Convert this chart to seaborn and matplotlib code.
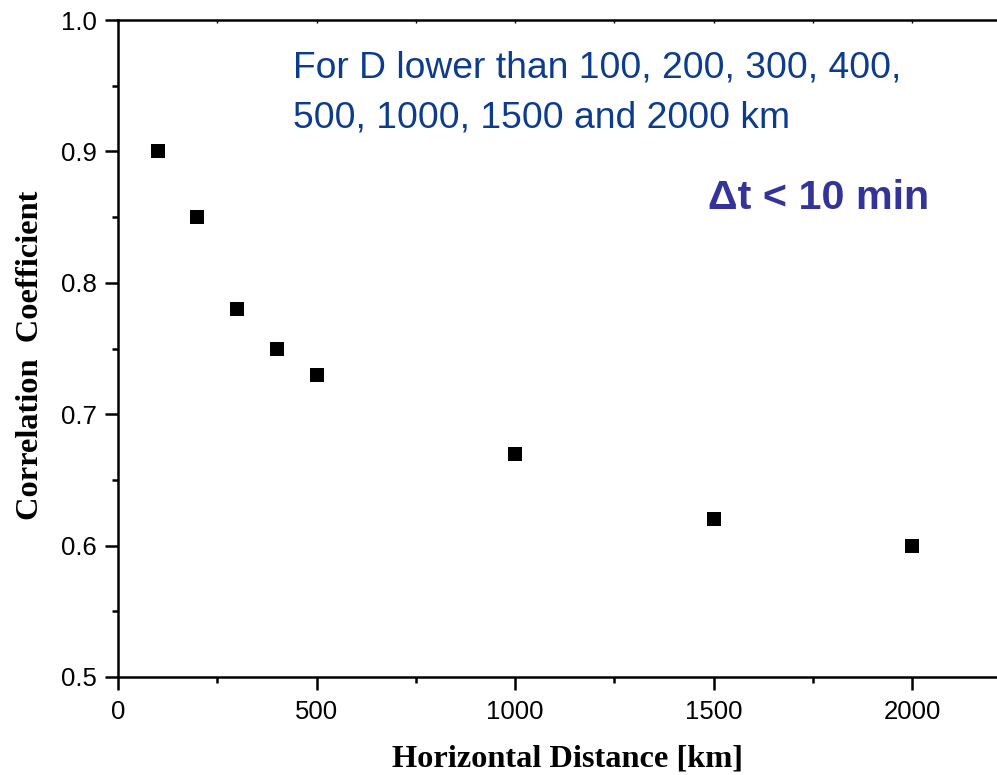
import matplotlib
matplotlib.use("Agg")
import matplotlib.pyplot as plt
import seaborn as sns
import pandas as pd
from matplotlib.ticker import MultipleLocator, FormatStrFormatter

distance_km = [100, 200, 300, 400, 500, 1000, 1500, 2000]
correlation = [0.90, 0.85, 0.78, 0.75, 0.73, 0.67, 0.62, 0.60]
note_lines = ["For D lower than 100, 200, 300, 400,", "500, 1000, 1500 and 2000 km"]
dt_label = "Δt < 10 min"

df = pd.DataFrame({"Horizontal Distance [km]": distance_km,
                   "Correlation Coefficient": correlation})

sns.set_theme(style="ticks")
plt.rcParams['font.family'] = ['Liberation Sans', 'DejaVu Sans']

fig = plt.figure(figsize=(9.97, 7.75), dpi=100)
ax = fig.add_axes([118/997, 98/775, 1 - 118/997, (677-20)/775])

sns.scatterplot(data=df, x="Horizontal Distance [km]", y="Correlation Coefficient",
                marker="s", s=100, color="black", edgecolor="black", linewidth=0, ax=ax)

ax.set_xlim(0, 2214)
ax.set_ylim(0.5, 1.0)
ax.xaxis.set_major_locator(MultipleLocator(500))
ax.xaxis.set_minor_locator(MultipleLocator(250))
ax.yaxis.set_major_locator(MultipleLocator(0.1))
ax.yaxis.set_minor_locator(MultipleLocator(0.05))
ax.yaxis.set_major_formatter(FormatStrFormatter('%.1f'))

for s in ["left", "bottom", "top"]:
    ax.spines[s].set_linewidth(1.8)
    ax.spines[s].set_color("black")
ax.spines["right"].set_visible(False)

ax.tick_params(axis="both", which="major", direction="out", length=9.4, width=1.8,
               labelsize=18.5, colors="black", pad=6)
ax.tick_params(axis="both", which="minor", direction="out", length=4.3, width=1.8,
               colors="black")
ax.tick_params(axis="x", which="major", pad=7)

top = ax.secondary_xaxis("top")
top.xaxis.set_major_locator(MultipleLocator(250))
top.tick_params(axis="x", which="both", direction="in", length=2, width=1.0,
                labeltop=False, colors="black")
top.spines["top"].set_visible(False)

ax.set_xlabel("Horizontal Distance [km]", fontsize=23.3, fontweight="bold",
              family="Liberation Serif", color="black")
ax.set_ylabel("Correlation  Coefficient", fontsize=23.3, fontweight="bold",
              family="Liberation Serif", color="black")
ax.xaxis.set_label_coords(0.511, -0.102)
ax.yaxis.set_label_coords(-0.083, 0.489)

ax.text(0.199, 0.927, note_lines[0], transform=ax.transAxes, fontsize=26.8,
        color="#0d3b8e", va="center", ha="left")
ax.text(0.199, 0.851, note_lines[1], transform=ax.transAxes, fontsize=26.8,
        color="#0d3b8e", va="center", ha="left")
ax.text(0.671, 0.729, dt_label, transform=ax.transAxes, fontsize=29.7,
        fontweight="bold", color="#333399", va="center", ha="left")

fig.savefig("out.png", dpi=100)
